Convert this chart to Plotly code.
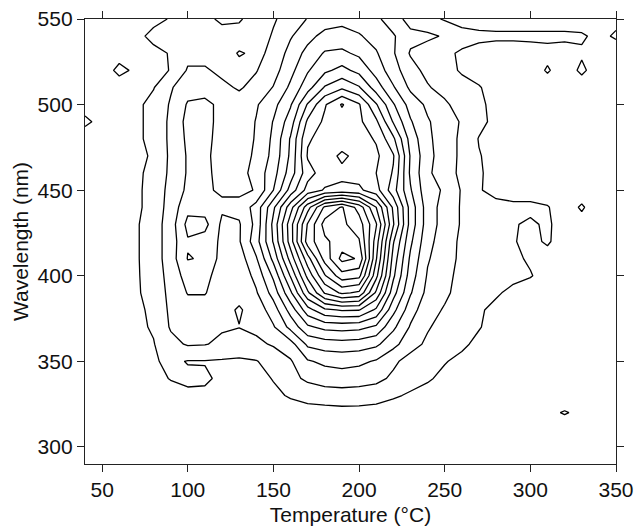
import plotly.graph_objects as go

# Temperature grid (°C) and wavelength grid (nm)
temperature = [40, 50, 60, 70, 80, 90, 100, 110, 120, 130, 140, 150, 160, 170, 180, 190,
               200, 210, 220, 230, 240, 250, 260, 270, 280, 290, 300, 310, 320, 330, 340, 350]
wavelength = [290, 300, 310, 320, 330, 340, 350, 360, 370, 380, 390, 400, 410, 420,
              430, 440, 450, 460, 470, 480, 490, 500, 510, 520, 530, 540, 550]

# TL intensity (in contour-level units), one row per wavelength
row_290 = [0.2,0.2,0.2,0.2,0.2,0.2,0.2,0.2,0.2,0.2,0.2,0.2,0.2,0.2,0.2,0.2,0.2,0.2,0.2,0.2,0.2,0.2,0.2,0.2,0.2,0.2,0.2,0.2,0.2,0.2,0.2,0.2]
row_300 = [0.2,0.2,0.2,0.2,0.2,0.3,0.3,0.3,0.3,0.3,0.3,0.3,0.3,0.3,0.3,0.3,0.3,0.3,0.3,0.3,0.3,0.3,0.2,0.2,0.2,0.2,0.2,0.2,0.2,0.2,0.2,0.2]
row_310 = [0.2,0.2,0.2,0.3,0.3,0.3,0.3,0.3,0.3,0.3,0.3,0.3,0.4,0.4,0.4,0.4,0.4,0.4,0.4,0.3,0.3,0.3,0.3,0.3,0.3,0.3,0.3,0.3,0.2,0.3,0.2,0.2]
row_320 = [0.3,0.3,0.3,0.3,0.3,0.4,0.5,0.5,0.4,0.3,0.4,0.5,0.55,0.6,0.65,0.7,0.7,0.65,0.6,0.5,0.45,0.4,0.4,0.3,0.3,0.3,0.3,0.7,1.1,0.7,0.3,0.3]
row_330 = [0.3,0.3,0.3,0.4,0.5,0.6,0.8,0.8,0.5,0.4,0.5,0.8,1.1,1.35,1.45,1.5,1.45,1.35,1.1,0.9,0.7,0.6,0.5,0.4,0.3,0.3,0.3,0.3,0.2,0.3,0.3,0.3]
row_340 = [0.3,0.3,0.4,0.5,0.7,1.05,1.2,1.15,0.8,0.6,0.7,1.05,1.7,2.2,2.5,2.6,2.5,2.3,1.8,1.3,1.1,0.8,0.6,0.5,0.4,0.3,0.3,0.3,0.3,0.3,0.3,0.3]
row_350 = [0.3,0.4,0.5,0.6,0.9,1.2,0.95,0.95,0.9,0.85,0.95,1.4,1.9,2.9,3.2,3.3,3.2,2.9,2.2,1.6,1.3,1.05,0.8,0.6,0.5,0.4,0.4,0.3,0.3,0.3,0.3,0.3]
row_360 = [0.3,0.4,0.5,0.7,0.95,1.7,2.1,2.05,1.8,1.6,1.8,2.1,2.6,4.2,4.5,4.6,4.5,4.2,3.3,2.4,1.8,1.4,1.15,0.8,0.6,0.5,0.4,0.4,0.3,0.3,0.3,0.3]
row_370 = [0.3,0.4,0.5,0.8,1.1,2.1,2.3,2.2,2.1,2.02,2.2,2.9,4.3,5.8,6.3,6.4,6.3,5.8,4.2,2.9,2.1,1.6,1.3,1.05,0.7,0.5,0.5,0.4,0.4,0.4,0.4,0.4]
row_380 = [0.3,0.4,0.5,0.8,1.2,2.2,2.6,2.6,2.3,1.9,2.4,3.5,5.4,7.6,8.8,9.1,9.05,7.8,5.3,3.4,2.4,1.9,1.5,1.1,0.8,0.6,0.5,0.5,0.5,0.4,0.4,0.4]
row_390 = [0.3,0.4,0.5,0.9,1.3,2.3,3.05,3.05,2.5,2.3,2.9,4.4,6.8,9.8,12.1,13.2,12.8,9.8,6.4,4.1,2.7,2.2,1.6,1.3,1.1,0.8,0.6,0.5,0.5,0.5,0.4,0.4]
row_400 = [0.3,0.4,0.5,0.9,1.4,2.4,3.4,3.3,2.5,2.3,3.3,5.2,8.1,11.3,13.9,15.6,15.3,11.3,7.2,4.5,2.9,2.3,1.7,1.4,1.3,1.2,1.05,0.7,0.6,0.5,0.5,0.4]
row_410 = [0.3,0.4,0.5,0.9,1.5,2.5,4.05,3.9,2.6,2.5,3.9,6.3,9.4,12.6,15.4,17.3,16.9,12.1,7.6,4.8,3.1,2.4,1.8,1.4,1.3,1.15,0.9,0.7,0.6,0.5,0.5,0.4]
row_420 = [0.3,0.4,0.6,0.9,1.5,2.5,3.9,3.6,2.8,2.9,4.6,7.1,10.5,14.5,15.8,16.5,16.1,12.5,8.1,5.2,3.3,2.5,1.8,1.4,1.2,1.05,0.8,1.1,0.6,0.6,0.5,0.5]
row_430 = [0.4,0.5,0.6,0.9,1.5,2.5,4.3,4.3,2.8,2.9,4.3,7.3,10.6,14.1,16.4,16.2,15.5,13.1,9.1,5.6,3.5,2.6,1.9,1.4,1.2,1.05,0.9,1.1,0.7,0.7,0.5,0.5]
row_440 = [0.4,0.5,0.6,0.8,1.4,2.4,3.7,3.6,3.15,3.3,4.4,6.8,9.6,12.6,15.2,16.1,14.6,12.0,8.8,5.6,3.5,2.6,1.9,1.3,1.2,1.15,1.15,1.05,0.6,1.1,0.5,0.5]
row_450 = [0.4,0.5,0.6,0.8,1.4,2.3,3.2,3.1,2.9,2.8,3.05,5.0,7.4,9.4,10.1,10.3,10.2,9.4,7.4,5.1,3.3,2.9,1.9,1.05,0.8,0.7,0.7,0.6,0.6,0.6,0.5,0.5]
row_460 = [0.5,0.6,0.7,0.8,1.3,2.2,3.1,3.2,2.7,2.6,3.4,4.6,6.5,8.6,9.5,9.7,9.6,9.0,7.9,4.8,3.2,2.4,1.8,1.1,0.7,0.6,0.6,0.6,0.6,0.6,0.5,0.5]
row_470 = [0.5,0.6,0.7,0.8,1.1,2.2,3.1,3.2,2.6,2.5,3.2,4.3,6.2,9.1,9.4,10.25,9.6,9.2,8.1,4.9,3.3,2.5,1.8,1.05,0.7,0.6,0.6,0.6,0.6,0.6,0.5,0.5]
row_480 = [0.5,0.6,0.7,0.8,1.3,2.2,3.2,3.3,2.6,2.4,3.1,4.2,6.1,8.9,9.3,9.3,9.4,8.9,7.2,4.6,3.2,2.5,1.8,0.95,0.7,0.6,0.6,0.6,0.6,0.6,0.5,0.5]
row_490 = [1.2,0.7,0.7,0.8,1.3,2.2,3.3,3.4,2.6,2.4,3.05,4.05,5.5,8.2,9.2,9.5,9.2,8.2,5.9,4.1,3.1,2.5,1.9,1.3,0.7,0.6,0.6,0.6,0.6,0.6,0.5,0.5]
row_500 = [0.6,0.6,0.6,0.8,1.3,2.1,3.1,3.3,2.7,2.4,2.9,3.7,4.9,7.1,8.9,10.1,9.1,7.1,5.1,3.6,2.8,2.2,1.5,1.2,0.7,0.6,0.6,0.6,0.6,0.6,0.5,0.5]
row_510 = [0.5,0.5,0.6,0.8,0.95,1.9,2.6,2.5,2.2,1.9,2.3,3.05,4.2,5.6,7.1,7.8,7.1,5.5,4.1,2.8,2.1,1.6,1.3,1.05,0.7,0.6,0.6,0.6,0.6,0.6,0.5,0.5]
row_520 = [0.5,0.6,1.2,0.85,0.85,1.02,2.1,2.1,1.8,1.6,1.95,2.6,3.7,4.9,5.8,6.3,5.7,4.6,3.4,2.4,1.7,1.3,0.9,0.7,0.6,0.6,0.6,1.08,0.6,1.15,0.6,0.5]
row_530 = [0.4,0.5,0.7,0.8,0.8,1.05,1.7,1.7,1.4,2.1,1.8,2.2,3.4,4.3,5.1,5.2,4.8,4.1,3.1,1.9,1.5,1.15,0.9,0.7,0.6,0.6,0.7,0.8,0.7,0.9,0.75,0.6]
row_540 = [0.4,0.5,0.6,0.8,1.2,1.4,1.6,1.5,1.3,1.35,1.5,2.1,2.9,3.7,4.3,4.4,4.1,3.6,3.1,2.3,2.2,1.9,1.3,1.2,1.15,1.15,1.15,1.15,1.15,1.1,0.8,1.1]
row_550 = [0.3,0.4,0.5,0.7,0.8,1.05,1.3,1.2,0.85,0.9,1.4,1.9,2.4,3.05,3.5,3.7,3.5,3.2,2.5,1.6,1.3,0.9,0.7,0.6,0.6,0.6,0.6,0.6,0.6,0.6,0.7,0.8]

intensity = [row_290, row_300, row_310, row_320, row_330, row_340, row_350, row_360,
             row_370, row_380, row_390, row_400, row_410, row_420, row_430, row_440,
             row_450, row_460, row_470, row_480, row_490, row_500, row_510, row_520,
             row_530, row_540, row_550]

x_ticks = [50, 100, 150, 200, 250, 300, 350]
y_ticks = [300, 350, 400, 450, 500, 550]

fig = go.Figure(go.Contour(
    x=temperature, y=wavelength, z=intensity,
    contours=dict(start=1, end=17, size=1, coloring="lines"),
    colorscale=[[0, "black"], [1, "black"]],
    showscale=False,
    line=dict(width=1.3, smoothing=0),
    hoverinfo="skip",
))

axis_common = dict(
    ticks="outside", ticklen=7, tickwidth=1, tickcolor="#222",
    showline=True, linecolor="#222", linewidth=1.3, mirror="ticks",
    showgrid=False, zeroline=False, automargin=False,
    tickfont=dict(size=21, color="#111"),
)

fig.update_layout(
    width=634, height=528,
    margin=dict(l=85, r=18, t=19, b=64, autoexpand=False),
    paper_bgcolor="white", plot_bgcolor="white",
    font=dict(family="Liberation Sans, Arial, sans-serif", size=21, color="#111"),
    showlegend=False,
    xaxis=dict(range=[40, 350], tickvals=x_ticks,
               title=dict(text="Temperature (°C)", font=dict(size=21), standoff=6),
               **axis_common),
    yaxis=dict(range=[290, 550], tickvals=y_ticks,
               title=dict(text="Wavelength (nm)", font=dict(size=21), standoff=3),
               **axis_common),
)

fig.write_html("out.html")
